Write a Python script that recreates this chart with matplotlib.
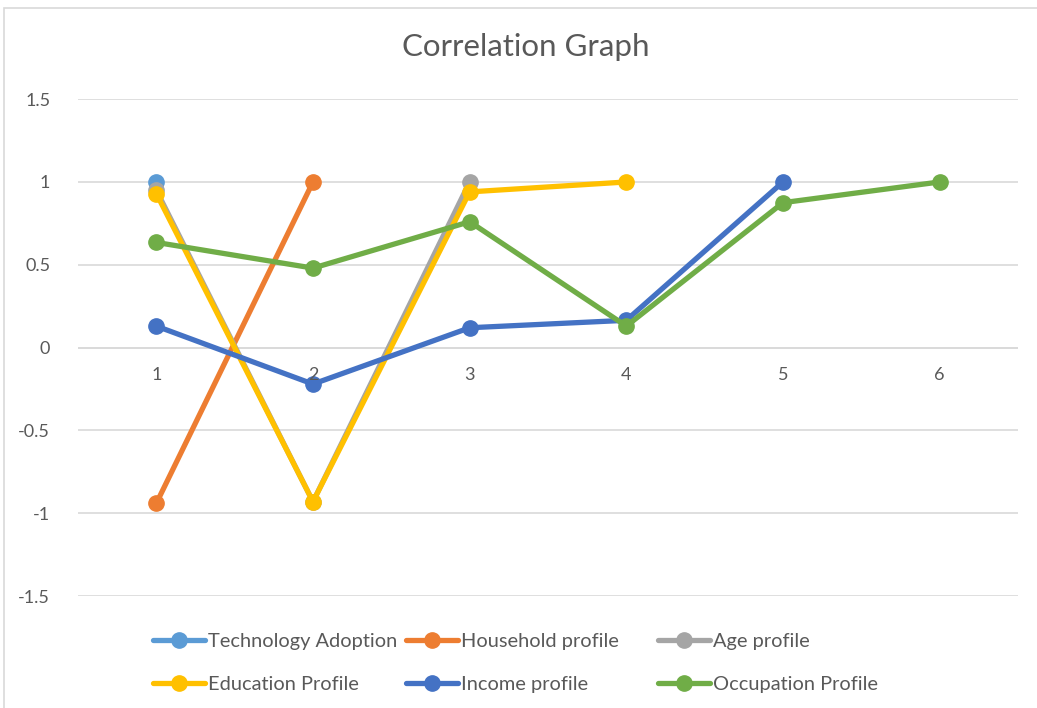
import numpy as np
import matplotlib.pyplot as plt
from matplotlib.patches import Rectangle

plt.rcParams['font.family'] = ['Lato', 'DejaVu Sans']

x_cats = [1, 2, 3, 4, 5, 6]

tech_adoption = [1.0]
household = [-0.94, 1.0]
age = [0.95, -0.93, 1.0]
education = [0.93, -0.93, 0.94, 1.0]
income = [0.13, -0.22, 0.12, 0.165, 1.0]
occupation = [0.635, 0.48, 0.76, 0.13, 0.875, 1.0]

series = [
    ('Technology Adoption', tech_adoption, '#5B9BD5'),
    ('Household profile', household, '#ED7D31'),
    ('Age profile', age, '#A5A5A5'),
    ('Education Profile', education, '#FFC000'),
    ('Income profile', income, '#4472C4'),
    ('Occupation Profile', occupation, '#70AD47'),
]

fig = plt.figure(figsize=(10.37, 7.08), dpi=100)
ax = fig.add_axes([0.0752, 0.158, 0.9065, 0.702])

fig.patches.append(Rectangle((0.004, -0.01), 1.2, 0.999, transform=fig.transFigure,
                             fill=False, edgecolor='#D9D9D9', linewidth=1.2))

lines = []
for name, vals, col in series:
    ln, = ax.plot(x_cats[:len(vals)], vals, color=col, lw=3.8, marker='o', ms=11,
                  label=name, solid_capstyle='round', zorder=3)
    lines.append(ln)

ax.set_xlim(0.5, 6.5)
ax.set_ylim(-1.5, 1.5)
ax.set_yticks([-1.5, -1, -0.5, 0, 0.5, 1, 1.5])
ax.set_yticklabels(['-1.5', '-1', '-0.5', '0', '0.5', '1', '1.5'])
ax.set_xticks([])
for s in ax.spines.values():
    s.set_visible(False)
ax.grid(axis='y', color='#D9D9D9', lw=1.2, zorder=0)
ax.axhline(0, color='#D9D9D9', lw=1.2, zorder=1)
ax.tick_params(axis='y', length=0, labelsize=13, labelcolor='#595959', pad=20)
for xc in x_cats:
    ax.text(xc, -0.165, str(xc), ha='center', va='center', fontsize=13, color='#595959')

fig.text(0.507, 0.933, 'Correlation Graph', ha='center', va='center',
         fontsize=22.5, color='#595959')

# three legend columns, rows filled left to right like Excel
col_x = [153 / 1037, 406 / 1037, 658 / 1037]
for i, cx in enumerate(col_x):
    hs = [lines[i], lines[i + 3]]
    leg = fig.legend(handles=hs, labels=[h.get_label() for h in hs],
                     loc='center left', bbox_to_anchor=(cx - 0.008, 0.064),
                     frameon=False, fontsize=14.4, handlelength=2.6,
                     handletextpad=0.15, labelspacing=1.3, borderaxespad=0)
    for t in leg.get_texts():
        t.set_color('#595959')

fig.savefig('out.png', dpi=100, facecolor='white')
